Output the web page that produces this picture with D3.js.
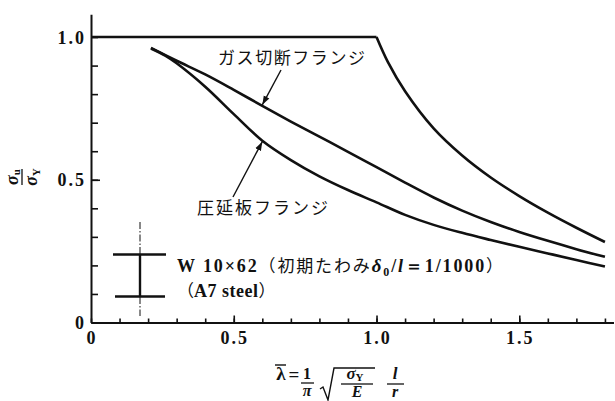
<!DOCTYPE html>
<html>
<head>
<meta charset="utf-8">
<script src="https://cdn.jsdelivr.net/npm/d3@7"></script>
<style>
  body { margin: 0; background: #fff; }
  svg { display: block; }
  .num { font-family: "Liberation Serif", "DejaVu Serif", serif; font-weight: bold; }
  .jp { font-family: "Noto Sans CJK JP", sans-serif; }
</style>
</head>
<body>
<svg id="chart" width="615" height="401"></svg>
<script>
// 細長比 λ̄ の目盛り
const lambdaTicks = [0, 0.1, 0.2, 0.3, 0.4, 0.5, 0.6, 0.7, 0.8, 0.9, 1.0, 1.1, 1.2, 1.3, 1.4, 1.5, 1.6, 1.7, 1.8];
const lambdaMajor = [0, 0.5, 1.0, 1.5];
const lambdaLabels = ["0", "0.5", "1.0", "1.5"];
// σu/σY の目盛り
const sigmaTicks = [0, 0.1, 0.2, 0.3, 0.4, 0.5, 0.6, 0.7, 0.8, 0.9, 1.0];
const sigmaMajor = [0, 0.5, 1.0];
const sigmaLabels = ["0", "0.5", "1.0"];

// 降伏限界とオイラー曲線
const plateauLambda = [0, 1.0];
const plateauSigma = [1.0, 1.0];
const eulerLambda = [1.0, 1.04, 1.1, 1.2, 1.3, 1.4, 1.5, 1.6, 1.7, 1.8];
const eulerSigma = [1.0, 0.912, 0.81, 0.68, 0.585, 0.508, 0.443, 0.385, 0.332, 0.282];

// ガス切断フランジ
const gasLambda = [0.21, 0.3, 0.4, 0.5, 0.6, 0.7, 0.8, 0.9, 1.0, 1.1, 1.2, 1.3, 1.4, 1.5, 1.6, 1.7, 1.8];
const gasSigma = [0.962, 0.917, 0.869, 0.815, 0.759, 0.704, 0.651, 0.598, 0.544, 0.49, 0.438, 0.392, 0.352, 0.317, 0.286, 0.257, 0.23];

// 圧延板フランジ
const rolledLambda = [0.21, 0.26, 0.3, 0.4, 0.5, 0.6, 0.7, 0.8, 0.9, 1.0, 1.1, 1.2, 1.3, 1.4, 1.5, 1.6, 1.7, 1.8];
const rolledSigma = [0.96, 0.935, 0.908, 0.826, 0.73, 0.637, 0.569, 0.512, 0.464, 0.421, 0.377, 0.342, 0.314, 0.289, 0.265, 0.242, 0.219, 0.196];

const svg = d3.select("#chart");
const x = d3.scaleLinear().domain([0, 1.83]).range([91, 613.5]);
const y = d3.scaleLinear().domain([0, 1.08]).range([322.5, 14.2]);

const ink = "#111";

// 軸
svg.append("g").attr("transform", `translate(0,${y(0)})`)
  .call(d3.axisBottom(x).tickValues(lambdaTicks).tickSizeInner(-4).tickSizeOuter(0).tickFormat(""));
svg.append("g").attr("transform", `translate(0,${y(0)})`)
  .call(d3.axisBottom(x).tickValues(lambdaMajor.slice(1)).tickSizeInner(-7).tickSizeOuter(0).tickFormat(""))
  .select(".domain").remove();
svg.append("g").attr("transform", `translate(${x(0)},0)`)
  .call(d3.axisLeft(y).tickValues(sigmaTicks).tickSizeInner(-7).tickSizeOuter(0).tickFormat(""));
svg.append("g").attr("transform", `translate(${x(0)},0)`)
  .call(d3.axisLeft(y).tickValues([0.5]).tickSizeInner(-9).tickSizeOuter(0).tickFormat(""))
  .select(".domain").remove();
svg.selectAll(".domain").attr("stroke", ink).attr("stroke-width", 2);
svg.selectAll(".tick line").attr("stroke", ink).attr("stroke-width", 1.6);

// 目盛りラベル
svg.append("g").selectAll("text").data(lambdaMajor).join("text")
  .attr("class", "num")
  .attr("x", d => x(d) + 1)
  .attr("y", 344)
  .attr("text-anchor", "middle")
  .attr("font-size", 18)
  .attr("letter-spacing", 2)
  .attr("fill", ink)
  .text((d, i) => lambdaLabels[i]);
svg.append("g").selectAll("text").data(sigmaMajor).join("text")
  .attr("class", "num")
  .attr("x", 86)
  .attr("y", d => y(d) + 6.5)
  .attr("text-anchor", "end")
  .attr("font-size", 18)
  .attr("letter-spacing", 2)
  .attr("fill", ink)
  .text((d, i) => sigmaLabels[i]);

// 曲線
const line = d3.line().x(d => x(d[0])).y(d => y(d[1])).curve(d3.curveCatmullRom.alpha(0.5));
const zip = (a, b) => a.map((v, i) => [v, b[i]]);
const curveStyle = s => s.attr("fill", "none").attr("stroke", ink).attr("stroke-width", 2.6)
  .attr("stroke-linejoin", "round").attr("stroke-linecap", "butt");

svg.append("path").datum(zip(plateauLambda, plateauSigma)).attr("d", d3.line().x(d => x(d[0])).y(d => y(d[1]))).call(curveStyle);
svg.append("path").datum(zip(eulerLambda, eulerSigma)).attr("d", line).call(curveStyle);
svg.append("path").datum(zip(gasLambda, gasSigma)).attr("d", line).call(curveStyle);
svg.append("path").datum(zip(rolledLambda, rolledSigma)).attr("d", line).call(curveStyle);

// 矢印付き注記
svg.append("defs").append("marker")
  .attr("id", "head").attr("viewBox", "0 0 10 10").attr("refX", 10).attr("refY", 5)
  .attr("markerWidth", 9).attr("markerHeight", 9).attr("markerUnits", "userSpaceOnUse")
  .attr("orient", "auto")
  .append("path").attr("d", "M0,1.5 L10,5 L0,8.5 Z").attr("fill", ink);

const at = (ls, ss, l) => d3.scaleLinear().domain(ls).range(ss)(l);
const gasTip = [x(0.6), y(at(gasLambda, gasSigma, 0.6))];
const rolledTip = [x(0.6), y(at(rolledLambda, rolledSigma, 0.6))];

svg.append("line").attr("x1", 281).attr("y1", 70).attr("x2", gasTip[0]).attr("y2", gasTip[1] - 1)
  .attr("stroke", ink).attr("stroke-width", 1.4).attr("marker-end", "url(#head)");
svg.append("line").attr("x1", 233).attr("y1", 197).attr("x2", rolledTip[0]).attr("y2", rolledTip[1] + 1)
  .attr("stroke", ink).attr("stroke-width", 1.4).attr("marker-end", "url(#head)");

svg.append("text").attr("class", "jp").attr("x", 218).attr("y", 64)
  .attr("font-size", 17).attr("textLength", 147).attr("lengthAdjust", "spacing")
  .attr("fill", ink).text("ガス切断フランジ");
svg.append("text").attr("class", "jp").attr("x", 197).attr("y", 214)
  .attr("font-size", 17).attr("textLength", 131).attr("lengthAdjust", "spacing")
  .attr("fill", ink).text("圧延板フランジ");

// H形断面の記号
const sym = svg.append("g");
sym.append("line").attr("x1", 140).attr("x2", 140).attr("y1", 222).attr("y2", 316)
  .attr("stroke", ink).attr("stroke-width", 1).attr("stroke-dasharray", "7,2,1.5,2");
sym.append("line").attr("x1", 140).attr("x2", 140).attr("y1", 254).attr("y2", 297)
  .attr("stroke", ink).attr("stroke-width", 2.4);
sym.append("line").attr("x1", 113).attr("x2", 166).attr("y1", 254.5).attr("y2", 254.5)
  .attr("stroke", ink).attr("stroke-width", 2.6);
sym.append("line").attr("x1", 115).attr("x2", 165).attr("y1", 296.5).attr("y2", 296.5)
  .attr("stroke", ink).attr("stroke-width", 2.6);

const leg1 = svg.append("text").attr("x", 177).attr("y", 272).attr("font-size", 18)
  .attr("fill", ink).attr("textLength", 326).attr("lengthAdjust", "spacing");
leg1.append("tspan").attr("class", "num").text("W 10×62");
leg1.append("tspan").attr("class", "jp").attr("font-size", 17).text("（初期たわみ");
leg1.append("tspan").attr("class", "num").attr("font-style", "italic").attr("font-size", 19).text("δ");
leg1.append("tspan").attr("class", "num").attr("font-size", 12).attr("dy", 4).text("0");
leg1.append("tspan").attr("class", "num").attr("dy", -4).text("/");
leg1.append("tspan").attr("class", "num").attr("font-style", "italic").text("l");
leg1.append("tspan").attr("class", "num").text("＝1/1000");
leg1.append("tspan").attr("class", "jp").attr("font-size", 17).text("）");

const leg2 = svg.append("text").attr("x", 177).attr("y", 297).attr("font-size", 18)
  .attr("fill", ink);
leg2.append("tspan").attr("class", "jp").attr("font-size", 17).text("（");
leg2.append("tspan").attr("class", "num").attr("letter-spacing", 0.5).text("A7 steel");
leg2.append("tspan").attr("class", "jp").attr("font-size", 17).text("）");

// 縦軸の表題 σu/σY
const yt = svg.append("g").attr("transform", "translate(22,177) rotate(-90)");
const ytNum = yt.append("text").attr("class", "num").attr("x", 0).attr("y", -4).attr("text-anchor", "middle")
  .attr("font-size", 18).attr("fill", ink);
ytNum.append("tspan").attr("font-style", "italic").text("σ");
ytNum.append("tspan").attr("font-size", 11).attr("dy", 2).text("u");
yt.append("line").attr("x1", -8).attr("x2", 8).attr("y1", 0).attr("y2", 0).attr("stroke", ink).attr("stroke-width", 1.3);
const ytDen = yt.append("text").attr("class", "num").attr("x", 0).attr("y", 15).attr("text-anchor", "middle")
  .attr("font-size", 18).attr("fill", ink);
ytDen.append("tspan").attr("font-style", "italic").text("σ");
ytDen.append("tspan").attr("font-size", 11).attr("dy", 3).text("Y");

// 横軸の表題 λ̄ = (1/π)√(σY/E)(l/r)
const xt = svg.append("g").attr("class", "num").attr("fill", ink);
xt.append("text").attr("x", 281).attr("y", 380).attr("text-anchor", "middle").attr("font-size", 19).text("λ");
xt.append("line").attr("x1", 275).attr("x2", 286).attr("y1", 365).attr("y2", 365).attr("stroke", ink).attr("stroke-width", 1.4);
xt.append("text").attr("x", 294).attr("y", 381).attr("text-anchor", "middle").attr("font-size", 19).text("=");
xt.append("text").attr("x", 307).attr("y", 379).attr("text-anchor", "middle").attr("font-size", 16).text("1");
xt.append("line").attr("x1", 301).attr("x2", 314).attr("y1", 383).attr("y2", 383).attr("stroke", ink).attr("stroke-width", 1.3);
xt.append("text").attr("x", 307).attr("y", 396).attr("text-anchor", "middle").attr("font-size", 16).attr("font-style", "italic").text("π");
xt.append("path").attr("d", "M320,389 L323,387 L328,400 L334,368 L375,368")
  .attr("fill", "none").attr("stroke", ink).attr("stroke-width", 1.4);
const sy = xt.append("text").attr("x", 355).attr("y", 379).attr("text-anchor", "middle").attr("font-size", 17);
sy.append("tspan").attr("font-style", "italic").text("σ");
sy.append("tspan").attr("font-size", 11).attr("dy", 2).text("Y");
xt.append("line").attr("x1", 341).attr("x2", 373).attr("y1", 384).attr("y2", 384).attr("stroke", ink).attr("stroke-width", 1.3);
xt.append("text").attr("x", 357).attr("y", 397).attr("text-anchor", "middle").attr("font-size", 16).attr("font-style", "italic").text("E");
xt.append("text").attr("x", 395).attr("y", 379).attr("text-anchor", "middle").attr("font-size", 17).attr("font-style", "italic").text("l");
xt.append("line").attr("x1", 387).attr("x2", 404).attr("y1", 384).attr("y2", 384).attr("stroke", ink).attr("stroke-width", 1.3);
xt.append("text").attr("x", 395).attr("y", 397).attr("text-anchor", "middle").attr("font-size", 16).attr("font-style", "italic").text("r");
</script>
</body>
</html>
